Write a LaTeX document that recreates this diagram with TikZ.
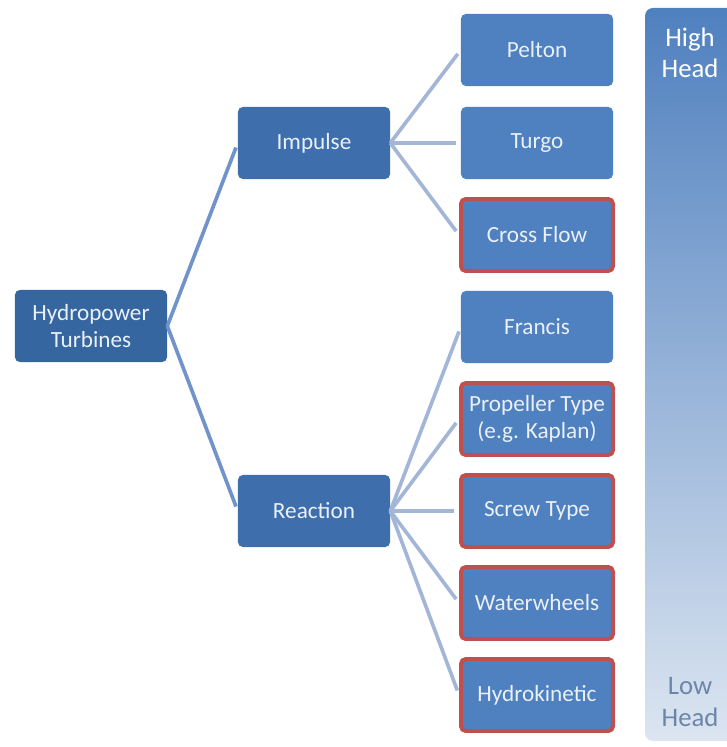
\documentclass[tikz,border=0pt]{standalone}
\usepackage{fontspec}
\setmainfont{Carlito}
\usetikzlibrary{positioning}
\definecolor{rootblue}{HTML}{36669F}
\definecolor{midblue}{HTML}{3E6EAC}
\definecolor{leafblue}{HTML}{4F80BF}
\definecolor{redrim}{HTML}{C0504D}
\definecolor{linkdark}{HTML}{7093CA}
\definecolor{linklight}{HTML}{A4B6D8}
\definecolor{barlow}{HTML}{DCE5F1}
\definecolor{lowtext}{HTML}{6C86AA}
\definecolor{boxtext}{HTML}{EAF0F8}
\tikzset{
	turbbox/.style={rectangle, rounded corners=0.12cm, minimum width=3.8cm,
	  minimum height=1.8cm, align=center, inner sep=2pt,
	  font=\fontsize{16.5}{19.5}\selectfont\color{boxtext}}
}
\tikzset{
	redbox/.style={turbbox, fill=leafblue, draw=redrim, line width=2.8pt}
}
\tikzset{
	linkA/.style={draw=linkdark, line width=2.6pt, shorten >=0.12cm},
	linkB/.style={draw=linklight, line width=2.6pt, shorten >=0.12cm}
}

\begin{document}
\begin{tikzpicture}[x=0.025cm, y=-0.025cm]
      \useasboundingbox (0,0) rectangle (726,747);

      % head scale on the right
      \shade[top color=leafblue, bottom color=barlow, rounded corners=0.2cm]
        (645,8) rectangle (770,741);
      \node[font=\fontsize{19}{22.5}\selectfont\color{white}, align=center] (high) at (690,53) {High\\Head};
      \node[font=\fontsize{19}{22.5}\selectfont\color{lowtext}, align=center] (low) at (690,702) {Low\\Head};

      % the three levels
      \node[turbbox, fill=rootblue] (root) at (91,326) {Hydropower\\Turbines};
      \node[turbbox, fill=midblue] (impulse) at (314,143) {Impulse};
      \node[turbbox, fill=midblue] (reaction) at (314,511) {Reaction};

      \node[turbbox, fill=leafblue] (pelton) at (537,50) {Pelton};
      \node[turbbox, fill=leafblue] (turgo) at (537,143) {Turgo};
      \node[redbox] (crossflow) at (537,235) {Cross Flow};
      \node[turbbox, fill=leafblue] (francis) at (537,327) {Francis};
      \node[redbox] (propeller) at (537,419) {Propeller Type\\(e.g. Kaplan)};
      \node[redbox] (screw) at (537,511) {Screw Type};
      \node[redbox] (wheels) at (537,603) {Waterwheels};
      \node[redbox] (kinetic) at (537,695) {Hydrokinetic};

      % connectors
      \draw[linkA] (root.east) -- (impulse.west);
      \draw[linkA] (root.east) -- (reaction.west);
      \foreach \leaf in {pelton, turgo, crossflow}
        \draw[linkB] (impulse.east) -- (\leaf.west);
      \foreach \leaf in {francis, propeller, screw, wheels, kinetic}
        \draw[linkB] (reaction.east) -- (\leaf.west);
    \end{tikzpicture}
\end{document}
